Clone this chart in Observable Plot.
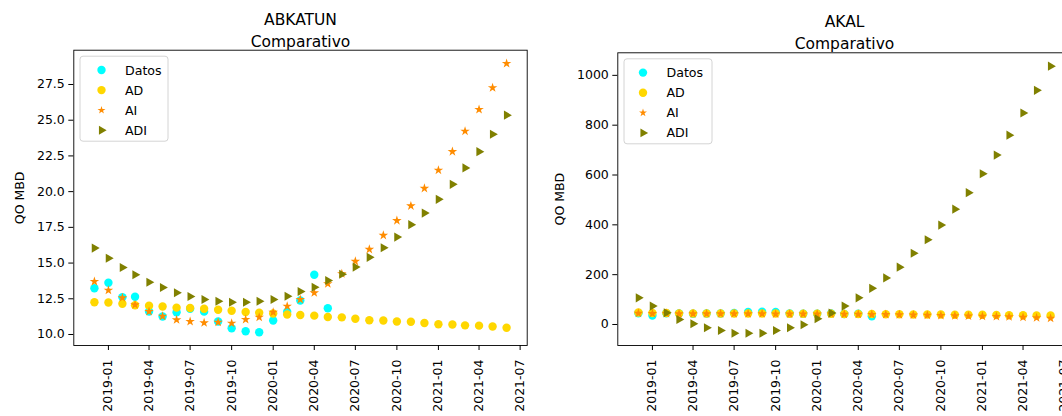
<!DOCTYPE html>
<html><head><meta charset="utf-8">
<script src="https://cdn.jsdelivr.net/npm/d3@7"></script>
<script src="https://cdn.jsdelivr.net/npm/@observablehq/plot@0.6"></script>
<style>
html,body{margin:0;padding:0;background:#fff;overflow:hidden}
#wrap{position:relative;width:1062px;height:416px;overflow:hidden;background:#fff}
#wrap svg{position:absolute;top:0}
</style></head><body><div id="wrap"></div>
<script>
// ---- data ----
const months = ["2018-12","2019-01","2019-02","2019-03","2019-04","2019-05","2019-06","2019-07","2019-08","2019-09","2019-10","2019-11","2019-12",
  "2020-01","2020-02","2020-03","2020-04","2020-05","2020-06","2020-07","2020-08","2020-09","2020-10","2020-11","2020-12",
  "2021-01","2021-02","2021-03","2021-04","2021-05","2021-06"];
const xTickLabels = ["2019-01","2019-04","2019-07","2019-10","2020-01","2020-04","2020-07","2020-10","2021-01","2021-04","2021-07"];
const seriesNames = ["Datos","AD","AI","ADI"];

const abkTitle = "ABKATUN\nComparativo";
const abkDatos = [13.24,13.62,12.61,12.64,11.61,11.26,11.56,11.8,11.6,10.91,10.44,10.23,10.16,10.98,11.6,12.38,14.18,11.84];
const abkAD = [12.26,12.24,12.15,12.05,12.01,11.96,11.88,11.86,11.8,11.73,11.66,11.57,11.52,11.47,11.4,11.37,11.32,11.22,11.2,11.1,11.0,10.98,10.91,10.89,10.8,10.72,10.7,10.64,10.62,10.56,10.47];
const abkAI = [13.71,13.1,12.57,12.08,11.61,11.28,11.03,10.91,10.82,10.86,10.79,11.05,11.21,11.56,11.98,12.45,12.92,13.55,14.25,15.12,15.96,16.94,17.97,19.0,20.23,21.5,22.8,24.23,25.75,27.27,28.97];
const abkADI = [16.05,15.34,14.69,14.18,13.66,13.29,12.92,12.66,12.45,12.33,12.26,12.26,12.33,12.45,12.68,13.01,13.31,13.78,14.22,14.72,15.4,16.07,16.82,17.69,18.5,19.46,20.51,21.66,22.8,24.02,25.35];
const abkYTicks = [10,12.5,15,17.5,20,22.5,25,27.5];

const akalTitle = "AKAL\nComparativo";
const akalDatos = [45,36,45,44,43,44,44,46,50,51,50,44,43,43,44,42,43,33];
const akalAD = [48,46,46,44,44,44,44,44,44,44,44,43,43,43,43,42,42,42,41,41,40,40,40,39,39,39,38,37,37,36,36];
const akalAI = [45,44,44,43,43,43,43,43,43,43,42,42,42,42,42,41,41,40,40,39,38,37,36,35,34,33,32,31,29,27,25];
const akalADI = [107,74,47,20,3,-13,-24,-35,-35,-35,-24,-13,-1,23,46,74,107,145,187,230,286,340,399,463,529,605,680,760,849,940,1037];
const akalYTicks = [0,200,400,600,800,1000];

// ---- styling ----
const colors = {Datos: "#00ffff", AD: "#ffd700", AI: "#ff8c00", ADI: "#808000"};
const FONT = "DejaVu Sans, Liberation Sans, sans-serif";
const parseMonth = d3.utcParse("%Y-%m");
const xDomain = [new Date(Date.UTC(2018, 9, 16, 8)), new Date(Date.UTC(2021, 6, 16, 16))];

function chart({title, datos, ad, ai, adi, yDomain, yTicks, yFormat, marginTop, labelOffset, left, legendDX}) {
  const rows = (vals) => vals.map((v, i) => ({date: parseMonth(months[i]), value: v}));
  const mL = 73.3;
  const plot = Plot.plot({
    width: 531, height: 416,
    marginTop, marginBottom: 71, marginLeft: mL, marginRight: 4.3,
    style: {fontFamily: FONT, fontSize: "12.5px", color: "black", background: "white", overflow: "visible"},
    x: {type: "utc", domain: xDomain},
    y: {domain: yDomain},
    marks: [
      Plot.dot(rows(datos), {x: "date", y: "value", r: 4.2, fill: colors.Datos}),
      Plot.dot(rows(ad), {x: "date", y: "value", r: 4.2, fill: colors.AD}),
      Plot.dot(rows(ai), {x: "date", y: "value", symbol: "star", r: 3.0, fill: colors.AI}),
      Plot.dot(rows(adi), {x: "date", y: "value", symbol: "triangle", rotate: 90, r: 3.4, fill: colors.ADI}),
      Plot.axisX({ticks: xTickLabels.map(parseMonth), tickFormat: d3.utcFormat("%Y-%m"), tickRotate: -90, tickSize: 5, tickPadding: 9, label: null}),
      Plot.axisY({ticks: yTicks, tickFormat: yFormat, tickSize: 5, tickPadding: 4, label: "QO MBD", labelAnchor: "center", labelArrow: "none", labelOffset}),
      Plot.frame({stroke: "black", strokeWidth: 0.9}),
      Plot.text([title], {frameAnchor: "top", lineAnchor: "bottom", dy: -3.5, fontSize: 15.5, lineHeight: 1.42, fill: "black"})
    ]
  });
  plot.style.left = left + "px";
  // legend
  const svg = d3.select(plot);
  const g = svg.append("g").attr("transform", `translate(${mL + 6.7},${marginTop + 6.5})`);
  g.append("rect").attr("width", 88).attr("height", 85).attr("rx", 3)
    .attr("fill", "white").attr("fill-opacity", 0.8).attr("stroke", "#d4d4d4").attr("stroke-width", 1);
  const sym = {Datos: [d3.symbolCircle, Math.PI * 4.2 * 4.2, 0], AD: [d3.symbolCircle, Math.PI * 4.2 * 4.2, 0],
               AI: [d3.symbolStar, Math.PI * 2.5 * 2.5, 0], ADI: [d3.symbolTriangle, Math.PI * 3.3 * 3.3, 90]};
  seriesNames.forEach((name, i) => {
    const y = 13.8 + i * 20.1;
    const [s, size, rot] = sym[name];
    g.append("path").attr("d", d3.symbol(s, size)()).attr("transform", `translate(${20 + legendDX},${y}) rotate(${rot})`).attr("fill", colors[name]);
    g.append("text").attr("x", 43.5 + legendDX).attr("y", y).attr("dy", "0.36em").attr("text-anchor", "start")
      .attr("font-family", FONT).attr("font-size", 12.6).attr("fill", "black").text(name);
  });
  return plot;
}

const wrap = document.getElementById("wrap");
wrap.appendChild(chart({title: abkTitle, datos: abkDatos, ad: abkAD, ai: abkAI, adi: abkADI,
  yDomain: [9.23, 29.9], yTicks: abkYTicks, yFormat: d3.format(".1f"), marginTop: 49.7, labelOffset: 59, left: 0, legendDX: 1.5}));
wrap.appendChild(chart({title: akalTitle, datos: akalDatos, ad: akalAD, ai: akalAI, adi: akalADI,
  yDomain: [-84.3, 1090.5], yTicks: akalYTicks, yFormat: d3.format("d"), marginTop: 52.3, labelOffset: 63, left: 544, legendDX: -1}));
</script></body></html>
